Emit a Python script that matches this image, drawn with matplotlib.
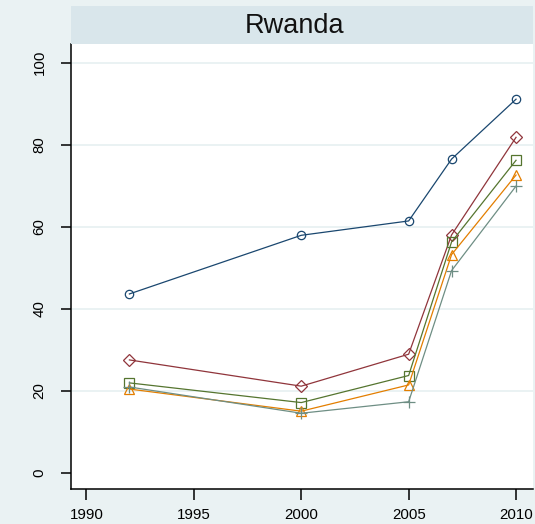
import matplotlib
matplotlib.use("Agg")
import matplotlib.pyplot as plt
from matplotlib.patches import Rectangle

years = [1992, 2000, 2005, 2007, 2010]
s_blue = [43.6, 57.9, 61.4, 76.5, 91.1]
s_red = [27.5, 21.1, 28.9, 58.0, 81.8]
s_green = [21.9, 17.1, 23.7, 56.3, 76.2]
s_orange = [20.4, 15.0, 21.4, 53.2, 72.6]
s_gray = [20.9, 14.5, 17.3, 49.3, 69.9]
xticks = [1990, 1995, 2000, 2005, 2010]
yticks = [0, 20, 40, 60, 80, 100]
title = "Rwanda"

plt.rcParams['font.family'] = ['Liberation Sans', 'DejaVu Sans']

W, H = 535, 524
fig = plt.figure(figsize=(W / 100, H / 100), dpi=100)
fig.patch.set_facecolor('#EAF2F3')

L, R, T, B = 71, 533, 44, 489
ax = fig.add_axes([L / W, 1 - B / H, (R - L) / W, (B - T) / H])
ax.set_facecolor('white')

# title band
fig.patches.append(Rectangle((L / W, 1 - T / H), (R - L) / W, (T - 6) / H,
                             transform=fig.transFigure, facecolor='#D9E6EB',
                             edgecolor='none', zorder=0))
fig.text(295 / W, 1 - 26 / H, title, ha='center', va='center', fontsize=19.5, color='#111111')

series = [
    (s_blue, '#1A476F', 'o', 6.0),
    (s_red, '#90353B', 'D', 6.0),
    (s_green, '#55752F', 's', 6.8),
    (s_orange, '#E37E00', '^', 7.5),
    (s_gray, '#6E8E84', '+', 8.6),
]
for vals, col, mk, ms in series:
    ax.plot(years, vals, color=col, lw=0.9, marker=mk, ms=ms,
            markerfacecolor='none', markeredgecolor=col, markeredgewidth=0.9, zorder=3)

ax.set_xlim(1989.28, 2010.79)
ax.set_ylim(-3.98, 104.56)
ax.set_xticks(xticks)
ax.set_yticks(yticks)
ax.set_yticklabels([str(v) for v in yticks], rotation=90, va='center')
for v in yticks[1:]:
    ax.axhline(v, color='#EAF2F3', lw=1.4, zorder=1)

for s in ['top', 'right']:
    ax.spines[s].set_visible(False)
for s in ['left', 'bottom']:
    ax.spines[s].set_linewidth(1.1)
    ax.spines[s].set_color('black')
ax.tick_params(axis='x', length=8, width=1.1, labelsize=10.8, pad=6, colors='black')
ax.tick_params(axis='y', length=7.5, width=1.1, labelsize=10.8, pad=10, colors='black')

fig.savefig('out.png', dpi=100, facecolor=fig.get_facecolor())
